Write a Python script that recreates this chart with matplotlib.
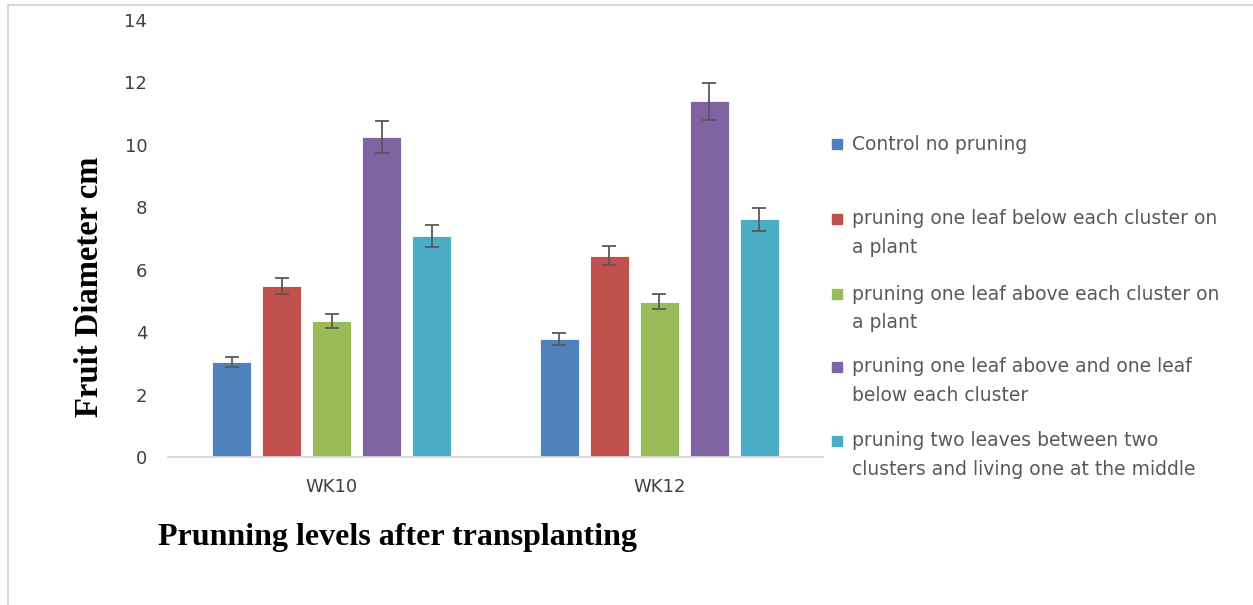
import matplotlib.pyplot as plt
import numpy as np
from matplotlib.patches import Rectangle
from matplotlib.lines import Line2D

groups = ["WK10", "WK12"]
treatments = [
    "Control no pruning",
    "pruning one leaf below each cluster on\na plant",
    "pruning one leaf above each cluster on\na plant",
    "pruning one leaf above and one leaf\nbelow each cluster",
    "pruning two leaves between two\nclusters and living one at the middle",
]
wk10 = [3.04, 5.48, 4.36, 10.25, 7.07]
wk12 = [3.79, 6.45, 4.98, 11.39, 7.61]
err10 = [0.16, 0.27, 0.23, 0.51, 0.35]
err12 = [0.19, 0.30, 0.25, 0.58, 0.37]
colors = ["#4F81BD", "#C0504D", "#9BBB59", "#8064A2", "#4BACC6"]

W, H = 1253, 605
fig = plt.figure(figsize=(W / 100, H / 100), dpi=100)
ax = fig.add_axes([168 / W, 1 - 457 / H, 655 / W, 437 / H])

x = np.arange(len(groups))
pitch, width = 0.1525, 0.119
for i in range(len(treatments)):
    vals = [wk10[i], wk12[i]]
    errs = [err10[i], err12[i]]
    pos = x + (i - 2) * pitch
    ax.bar(pos, vals, width, color=colors[i], edgecolor="white", linewidth=0.6, zorder=2)
    ax.errorbar(pos, vals, yerr=errs, fmt="none", ecolor="#595959", elinewidth=1.3,
                capsize=4.7, capthick=1.3, zorder=3)

ax.set_xlim(-0.5, 1.5)
ax.set_ylim(0, 14)
ax.set_yticks(range(0, 15, 2))
ax.set_xticks(x)
ax.set_xticklabels(groups)
for s in ["top", "right", "left"]:
    ax.spines[s].set_visible(False)
ax.spines["bottom"].set_color("#D9D9D9")
ax.spines["bottom"].set_linewidth(1.3)
ax.tick_params(axis="both", length=0, labelsize=13, labelcolor="#404040")
ax.tick_params(axis="y", pad=15)
ax.tick_params(axis="x", pad=15)
for lab in ax.get_xticklabels() + ax.get_yticklabels():
    lab.set_fontfamily("DejaVu Sans")

fig.text(90 / W, 1 - 287 / H, "Fruit Diameter cm", rotation=90, ha="center", va="center",
         fontsize=23.5, fontweight="bold", family="Liberation Serif")
fig.text(397 / W, 1 - 537 / H, "Prunning levels after transplanting", ha="center", va="center",
         fontsize=23, fontweight="bold", family="Liberation Serif")

# legend, drawn by hand so the swatch sits on the first line
first_y = [144, 219, 294, 367, 441]
for i, lab in enumerate(treatments):
    y0 = first_y[i]
    fig.patches.append(Rectangle((832 / W, 1 - (y0 + 5) / H), 10 / W, 10 / H,
                                 transform=fig.transFigure, color=colors[i]))
    for k, line in enumerate(lab.split("\n")):
        fig.text(852 / W, 1 - (y0 + 28.5 * k) / H, line, ha="left", va="center",
                 fontsize=13.5, color="#595959", family="DejaVu Sans")

# outer frame
fig.add_artist(Line2D([8 / W, 1], [1 - 5 / H, 1 - 5 / H], transform=fig.transFigure,
                      color="#D9D9D9", linewidth=1.5))
fig.add_artist(Line2D([8 / W, 8 / W], [0, 1 - 5 / H], transform=fig.transFigure,
                      color="#D9D9D9", linewidth=1.5))

fig.savefig("out.png", dpi=100)
